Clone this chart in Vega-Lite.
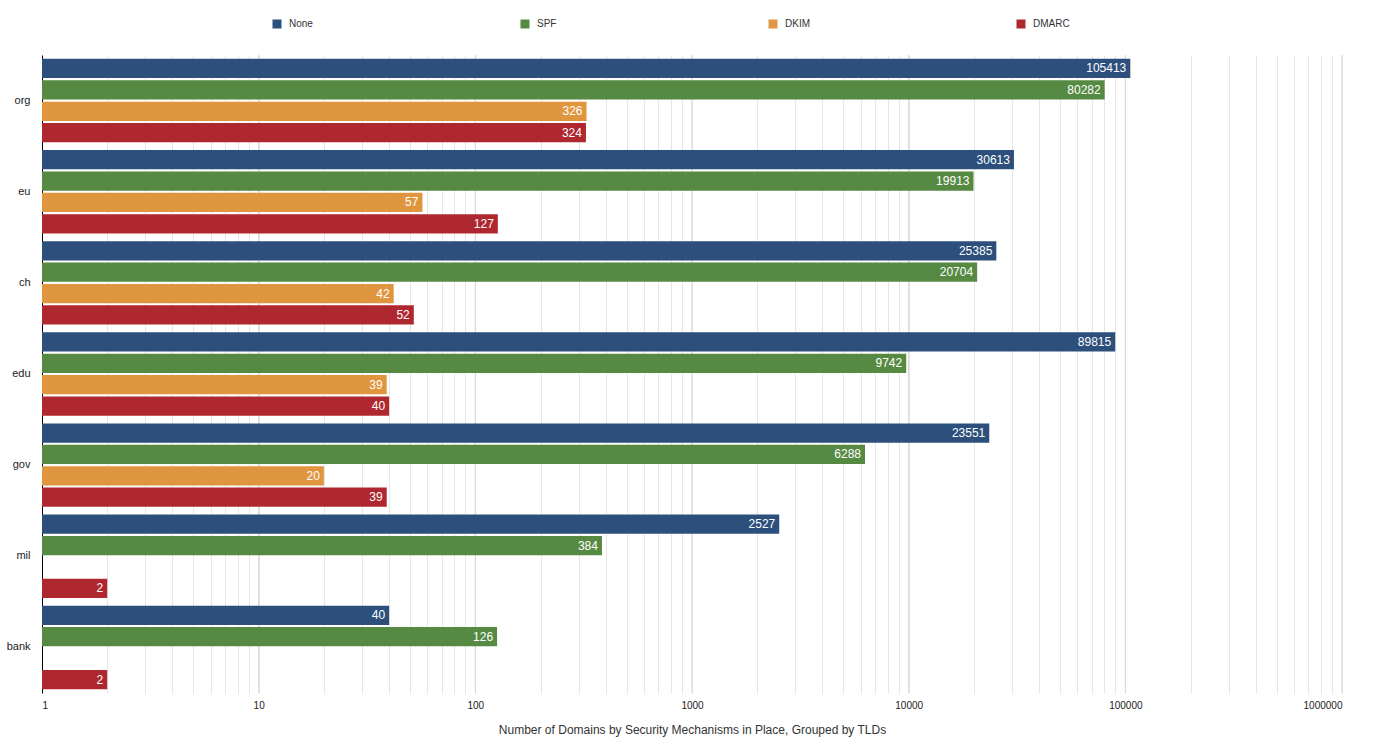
{
  "$schema": "https://vega.github.io/schema/vega-lite/v6.json",
  "width": 1300,
  "height": 638,
  "autosize": {"type": "none"},
  "padding": {"left": 42, "top": 55, "right": 42, "bottom": 54},
  "background": "white",
  "config": {
    "font": "Liberation Sans",
    "view": {"stroke": null}
  },
  "datasets": {
    "domains": [
      {"tld": "org", "mechanism": "None", "count": 105413},
      {"tld": "org", "mechanism": "SPF", "count": 80282},
      {"tld": "org", "mechanism": "DKIM", "count": 326},
      {"tld": "org", "mechanism": "DMARC", "count": 324},
      {"tld": "eu", "mechanism": "None", "count": 30613},
      {"tld": "eu", "mechanism": "SPF", "count": 19913},
      {"tld": "eu", "mechanism": "DKIM", "count": 57},
      {"tld": "eu", "mechanism": "DMARC", "count": 127},
      {"tld": "ch", "mechanism": "None", "count": 25385},
      {"tld": "ch", "mechanism": "SPF", "count": 20704},
      {"tld": "ch", "mechanism": "DKIM", "count": 42},
      {"tld": "ch", "mechanism": "DMARC", "count": 52},
      {"tld": "edu", "mechanism": "None", "count": 89815},
      {"tld": "edu", "mechanism": "SPF", "count": 9742},
      {"tld": "edu", "mechanism": "DKIM", "count": 39},
      {"tld": "edu", "mechanism": "DMARC", "count": 40},
      {"tld": "gov", "mechanism": "None", "count": 23551},
      {"tld": "gov", "mechanism": "SPF", "count": 6288},
      {"tld": "gov", "mechanism": "DKIM", "count": 20},
      {"tld": "gov", "mechanism": "DMARC", "count": 39},
      {"tld": "mil", "mechanism": "None", "count": 2527},
      {"tld": "mil", "mechanism": "SPF", "count": 384},
      {"tld": "mil", "mechanism": "DMARC", "count": 2},
      {"tld": "bank", "mechanism": "None", "count": 40},
      {"tld": "bank", "mechanism": "SPF", "count": 126},
      {"tld": "bank", "mechanism": "DMARC", "count": 2}
    ],
    "decades": [
      {"count": 10}, {"count": 100}, {"count": 1000}, {"count": 10000}, {"count": 100000}, {"count": 1000000}
    ]
  },
  "layer": [
    {
      "data": {"name": "decades"},
      "mark": {"type": "rule", "color": "#d6d6d6", "strokeWidth": 1},
      "encoding": {
        "x": {"field": "count", "type": "quantitative", "scale": {"type": "log", "domain": [1, 1000000]}}
      }
    },
    {
      "data": {"name": "domains"},
      "encoding": {
        "x": {
          "field": "count",
          "type": "quantitative",
          "scale": {"type": "log", "domain": [1, 1000000]},
          "axis": {
            "title": "Number of Domains by Security Mechanisms in Place, Grouped by TLDs",
            "titleFontSize": 12,
            "titleFontWeight": "normal",
            "titleColor": "#333333",
            "titlePadding": 14,
            "domain": false,
            "ticks": false,
            "format": "d",
            "labelFontSize": 10,
            "labelColor": "#222222",
            "labelPadding": 7,
            "grid": true,
            "gridColor": "#e6e6e6"
          }
        },
        "y": {
          "field": "tld",
          "type": "nominal",
          "sort": ["org", "eu", "ch", "edu", "gov", "mil", "bank"],
          "scale": {"paddingInner": 0.085, "paddingOuter": 0.0425},
          "axis": {
            "title": null,
            "ticks": false,
            "domain": true,
            "domainColor": "#000000",
            "domainWidth": 1,
            "labelFontSize": 11,
            "labelColor": "#222222",
            "labelPadding": 12
          }
        },
        "yOffset": {
          "field": "mechanism",
          "type": "nominal",
          "sort": ["None", "SPF", "DKIM", "DMARC"],
          "scale": {"paddingInner": 0.1, "paddingOuter": 0}
        }
      },
      "layer": [
        {
          "mark": {"type": "bar"},
          "encoding": {
            "x2": {"datum": 1},
            "color": {
              "field": "mechanism",
              "type": "nominal",
              "sort": ["None", "SPF", "DKIM", "DMARC"],
              "scale": {
                "domain": ["None", "SPF", "DKIM", "DMARC"],
                "range": ["#2c4f7c", "#568a43", "#e0963f", "#b0282f"]
              },
              "legend": {
                "title": null,
                "orient": "none",
                "legendX": 230,
                "legendY": -36,
                "direction": "horizontal",
                "columns": 4,
                "gridAlign": "all",
                "columnPadding": 194,
                "symbolType": "square",
                "symbolSize": 81,
                "symbolStrokeWidth": 0,
                "labelFontSize": 10,
                "labelColor": "#333333",
                "labelOffset": 7
              }
            }
          }
        },
        {
          "mark": {"type": "text", "align": "right", "baseline": "middle", "dx": -4, "color": "white", "fontSize": 12},
          "encoding": {
            "text": {"field": "count", "type": "quantitative", "format": "d"}
          }
        }
      ]
    }
  ]
}
